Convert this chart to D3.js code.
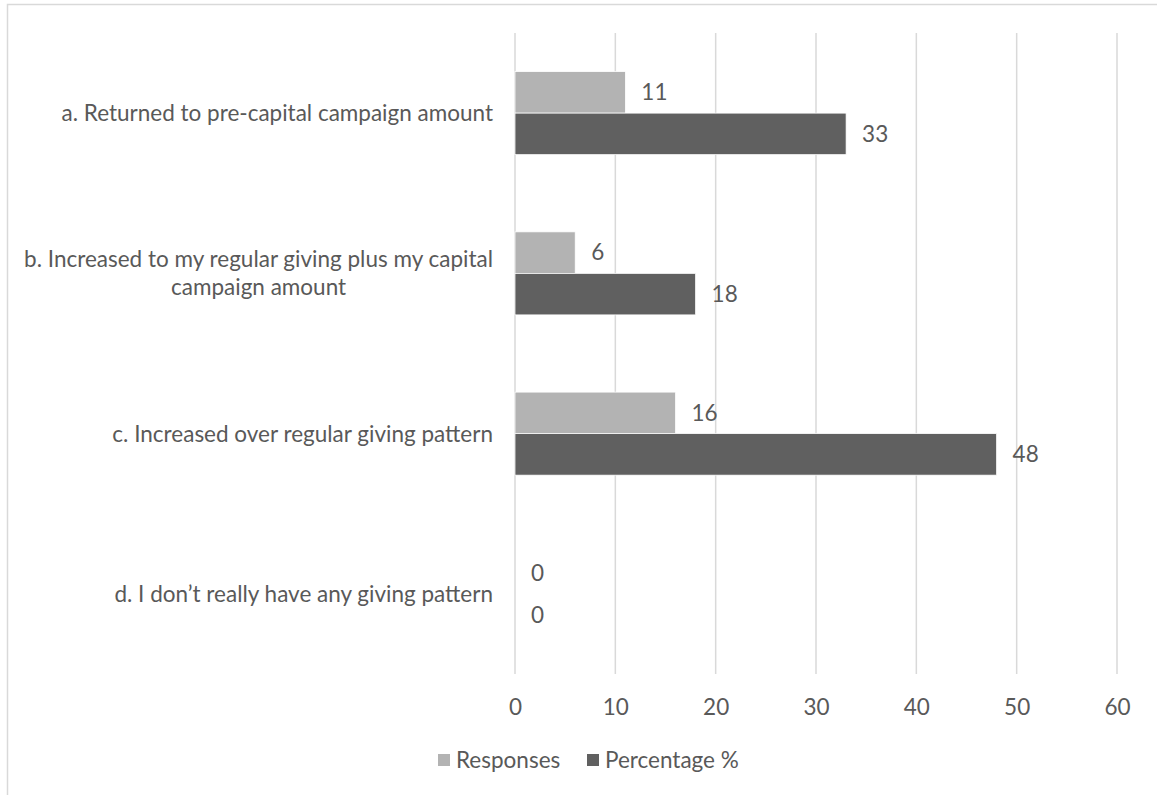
<!DOCTYPE html>
<html>
<head>
<meta charset="utf-8">
<script src="https://cdn.jsdelivr.net/npm/d3@7"></script>
<style>
  html, body { margin: 0; padding: 0; background: #fff; }
  svg { display: block; }
  text { font-family: Lato, "Open Sans", sans-serif; fill: #595959; }
</style>
</head>
<body>
<svg id="chart" width="1157" height="795"></svg>
<script>
// Survey answers (line breaks mark where a long label wraps)
const categories = [
  "a. Returned to pre-capital campaign amount",
  "b. Increased to my regular giving plus my capital\ncampaign amount",
  "c. Increased over regular giving pattern",
  "d. I don\u2019t really have any giving pattern"
];
const seriesNames = ["Responses", "Percentage %"];
const responses = [11, 6, 16, 0];
const percentages = [33, 18, 48, 0];
const xTicks = [0, 10, 20, 30, 40, 50, 60];
const seriesColors = ["#b3b3b3", "#606060"];

const svg = d3.select("#chart");
const fontSize = 22.5;

// Chart area frame
svg.append("rect")
  .attr("x", 7.5).attr("y", 4.5)
  .attr("width", 1300).attr("height", 1000)
  .attr("fill", "none")
  .attr("stroke", "#d9d9d9")
  .attr("stroke-width", 1.5);

const plot = { left: 515, right: 1117, top: 33, bottom: 674 };

const x = d3.scaleLinear().domain([0, 60]).range([plot.left, plot.right]);
const y = d3.scaleBand().domain(categories).range([plot.top, plot.bottom]);
const inner = d3.scaleBand().domain(seriesNames)
  .range([0, y.bandwidth()])
  .paddingInner(0).paddingOuter(0.93);

// Vertical gridlines
svg.append("g").selectAll("line")
  .data(xTicks).join("line")
  .attr("x1", d => x(d)).attr("x2", d => x(d))
  .attr("y1", plot.top).attr("y2", plot.bottom)
  .attr("stroke", "#d9d9d9").attr("stroke-width", 1.5);

// X axis labels
const xAxis = d3.axisBottom(x).tickValues(xTicks).tickSize(0).tickPadding(0);
const gx = svg.append("g")
  .attr("transform", `translate(0,${plot.bottom})`)
  .call(xAxis);
gx.select(".domain").remove();
gx.selectAll("text")
  .attr("y", 33)
  .attr("dy", "0.35em")
  .style("font-size", fontSize + "px")
  .style("font-family", "Lato, sans-serif")
  .attr("fill", "#595959");

// Bars
const rows = categories.map((c, i) => ({
  cat: c,
  values: [
    { series: seriesNames[0], value: responses[i], color: seriesColors[0] },
    { series: seriesNames[1], value: percentages[i], color: seriesColors[1] }
  ]
}));

const groups = svg.append("g").selectAll("g")
  .data(rows).join("g")
  .attr("transform", d => `translate(0,${y(d.cat)})`);

groups.selectAll("rect")
  .data(d => d.values).join("rect")
  .attr("x", x(0))
  .attr("y", d => inner(d.series))
  .attr("width", d => x(d.value) - x(0))
  .attr("height", inner.bandwidth())
  .attr("fill", d => d.color)
  .attr("stroke", d => d.value > 0 ? "#ffffff" : "none")
  .attr("stroke-width", 0.75);

groups.selectAll("text.value")
  .data(d => d.values).join("text")
  .attr("class", "value")
  .attr("x", d => x(d.value) + 16)
  .attr("y", d => inner(d.series) + inner.bandwidth() / 2)
  .attr("dy", "0.35em")
  .style("font-size", fontSize + "px")
  .text(d => d.value);

// Category labels: block right-aligned to the axis, wrapped lines centred
const labelRight = 493;
const lineHeight = 28;
categories.forEach(c => {
  const lines = c.split("\n");
  const g = svg.append("g");
  const texts = lines.map((ln, k) => g.append("text")
    .style("font-size", fontSize + "px")
    .attr("text-anchor", "middle")
    .attr("dy", "0.35em")
    .attr("y", y(c) + y.bandwidth() / 2 + (k - (lines.length - 1) / 2) * lineHeight)
    .text(ln));
  const maxW = d3.max(texts, t => t.node().getComputedTextLength());
  texts.forEach(t => t.attr("x", labelRight - maxW / 2));
});

// Legend
const legend = svg.append("g").attr("transform", "translate(438,760)");
const legendX = [0, 149];
seriesNames.forEach((s, i) => {
  legend.append("rect")
    .attr("x", legendX[i]).attr("y", -6)
    .attr("width", 12).attr("height", 12)
    .attr("fill", seriesColors[i]);
  legend.append("text")
    .attr("x", legendX[i] + 18).attr("y", 0)
    .attr("dy", "0.35em")
    .style("font-size", fontSize + "px")
    .text(s);
});
</script>
</body>
</html>
